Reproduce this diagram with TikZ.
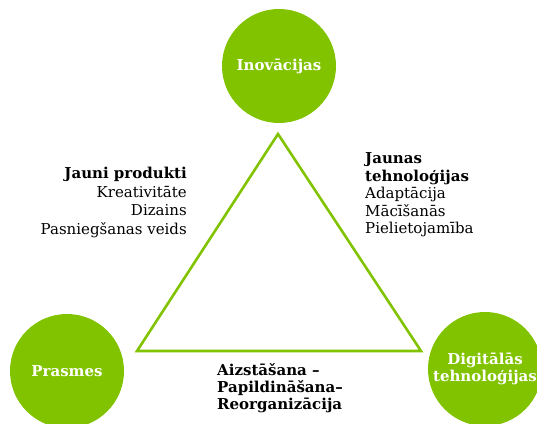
\documentclass[tikz,border=0pt]{standalone}
\usepackage{fontspec}
\setmainfont{DejaVu Serif}
\definecolor{lgreen}{RGB}{130,195,0}
\newcommand{\topstrut}{\rule{0pt}{13pt}}
\begin{document}
\begin{tikzpicture}[x=1pt,y=-1pt,
  bubble/.style={circle,fill=lgreen,minimum size=114pt,inner sep=0pt,text=white,
    font=\bfseries\fontsize{15}{17.5}\selectfont,align=center},
  label/.style={inner sep=0pt},
  tri/.style={draw=lgreen,line width=2.6pt,line join=miter}]
\useasboundingbox (0,0) rectangle (537,423);
\begin{scope}
\clip (0,0) rectangle (537,423);
\node[bubble] (inov) at (279,66) {Inovācijas};
\node[bubble] (prasmes) at (67,371) {Prasmes};
\node[bubble] (digi) at (485,369) {Digitālās\\tehnoloģijas};
\end{scope}
\coordinate (ta) at (278,134);
\coordinate (tb) at (137,351);
\coordinate (tc) at (421,351);
\draw[tri] (ta) -- (tb) -- (tc) -- cycle;
\node[label,anchor=north east,align=right,font=\fontsize{15}{18.7}\selectfont] (left) at (187,165.3)
  {\topstrut\textbf{Jauni produkti}\\Kreativitāte\\Dizains\\Pasniegšanas veids};
\node[label,anchor=north west,align=left,font=\fontsize{15}{17.5}\selectfont] (right) at (365,150.3)
  {\topstrut\textbf{Jaunas}\\\textbf{tehnoloģijas}\\Adaptācija\\Mācīšanās\\Pielietojamība};
\node[label,anchor=north west,align=left,font=\bfseries\fontsize{15}{16.7}\selectfont] (bottom) at (217,362.7)
  {\topstrut Aizstāšana –\\Papildināšana–\\Reorganizācija};
\end{tikzpicture}
\end{document}
